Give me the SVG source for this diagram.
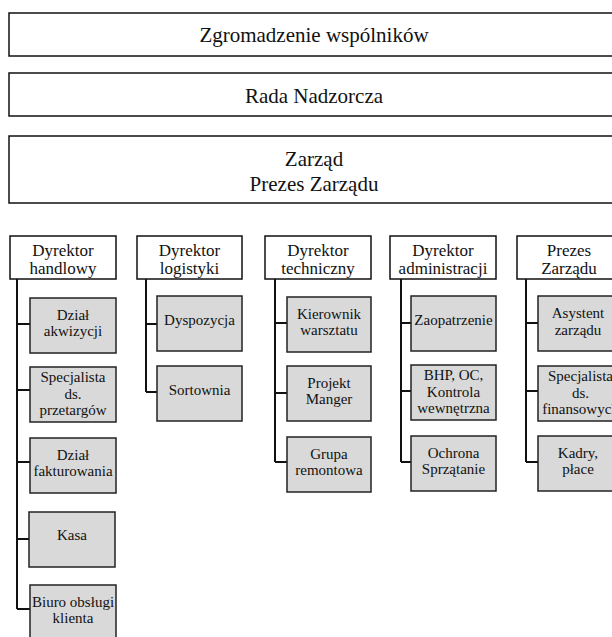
<svg xmlns="http://www.w3.org/2000/svg" width="612" height="637" viewBox="0 0 612 637">
  <style>
    text { font-family: "Liberation Serif", "Times New Roman", serif; fill: #111; text-anchor: middle; }
    .top { font-size: 21px; }
    .dir { font-size: 17px; }
    .sub { font-size: 15px; }
    .wbox { fill: #fff; stroke: #111; stroke-width: 1.5; }
    .gbox { fill: #d9d9d9; stroke: #222; stroke-width: 1.5; }
    .conn { fill: none; stroke: #111; stroke-width: 2; }
  </style>
  <rect width="612" height="637" fill="#fff"/>

  <!-- governing bodies -->
  <g id="zgromadzenie">
    <rect class="wbox" x="9" y="13" width="610" height="43"/>
    <text class="top" x="314" y="42">Zgromadzenie wspólników</text>
  </g>
  <g id="rada">
    <rect class="wbox" x="9" y="73" width="610" height="43"/>
    <text class="top" x="314" y="103">Rada Nadzorcza</text>
  </g>
  <g id="zarzad">
    <rect class="wbox" x="9" y="136" width="610" height="67"/>
    <text class="top" x="314" y="166">Zarząd</text>
    <text class="top" x="314" y="191">Prezes Zarządu</text>
  </g>

  <!-- connectors -->
  <g id="connectors">
    <path class="conn" d="M17 279V609M17 324H30M17 390H30M17 462H30M17 539H30M17 609H30"/>
    <path class="conn" d="M146 279V392M146 324H157M146 392H157"/>
    <path class="conn" d="M275 279V462M275 323H287M275 393H287M275 462H287"/>
    <path class="conn" d="M401 279V462M401 323H411M401 391H411M401 462H411"/>
    <path class="conn" d="M526 279V462M526 323H538M526 391H538M526 462H538"/>
  </g>

  <!-- column 1 -->
  <g id="dyr-handlowy">
    <rect class="wbox" x="10" y="236" width="106" height="43"/>
    <text class="dir" x="63" y="256">Dyrektor</text>
    <text class="dir" x="63" y="274">handlowy</text>
  </g>
  <g id="dzial-akwizycji">
    <rect class="gbox" x="30" y="298" width="86" height="55"/>
    <text class="sub" x="73" y="319.5">Dział</text>
    <text class="sub" x="73" y="336">akwizycji</text>
  </g>
  <g id="specjalista-przetargow">
    <rect class="gbox" x="30" y="367" width="86" height="55"/>
    <text class="sub" x="73" y="382">Specjalista</text>
    <text class="sub" x="73" y="398.5">ds.</text>
    <text class="sub" x="73" y="415">przetargów</text>
  </g>
  <g id="dzial-fakturowania">
    <rect class="gbox" x="30" y="438" width="86" height="55"/>
    <text class="sub" x="73" y="459.5">Dział</text>
    <text class="sub" x="73" y="476">fakturowania</text>
  </g>
  <g id="kasa">
    <rect class="gbox" x="29" y="512" width="86" height="55"/>
    <text class="sub" x="72" y="540">Kasa</text>
  </g>
  <g id="biuro-obslugi">
    <rect class="gbox" x="30" y="585" width="86" height="56"/>
    <text class="sub" x="73" y="606.5">Biuro obsługi</text>
    <text class="sub" x="73" y="623">klienta</text>
  </g>

  <!-- column 2 -->
  <g id="dyr-logistyki">
    <rect class="wbox" x="137" y="236" width="105" height="43"/>
    <text class="dir" x="189.5" y="256">Dyrektor</text>
    <text class="dir" x="189.5" y="274">logistyki</text>
  </g>
  <g id="dyspozycja">
    <rect class="gbox" x="157" y="296" width="85" height="55"/>
    <text class="sub" x="199.5" y="325">Dyspozycja</text>
  </g>
  <g id="sortownia">
    <rect class="gbox" x="157" y="366" width="85" height="55"/>
    <text class="sub" x="199.5" y="395">Sortownia</text>
  </g>

  <!-- column 3 -->
  <g id="dyr-techniczny">
    <rect class="wbox" x="265" y="236" width="106" height="43"/>
    <text class="dir" x="318" y="256">Dyrektor</text>
    <text class="dir" x="318" y="274">techniczny</text>
  </g>
  <g id="kierownik-warsztatu">
    <rect class="gbox" x="287" y="297" width="84" height="55"/>
    <text class="sub" x="329" y="318.5">Kierownik</text>
    <text class="sub" x="329" y="335">warsztatu</text>
  </g>
  <g id="projekt-manger">
    <rect class="gbox" x="287" y="366" width="84" height="55"/>
    <text class="sub" x="329" y="387.5">Projekt</text>
    <text class="sub" x="329" y="404">Manger</text>
  </g>
  <g id="grupa-remontowa">
    <rect class="gbox" x="287" y="437" width="84" height="55"/>
    <text class="sub" x="329" y="458.5">Grupa</text>
    <text class="sub" x="329" y="475">remontowa</text>
  </g>

  <!-- column 4 -->
  <g id="dyr-administracji">
    <rect class="wbox" x="390" y="236" width="106" height="43"/>
    <text class="dir" x="443" y="256">Dyrektor</text>
    <text class="dir" x="443" y="274">administracji</text>
  </g>
  <g id="zaopatrzenie">
    <rect class="gbox" x="411" y="296" width="85" height="55"/>
    <text class="sub" x="453.5" y="325">Zaopatrzenie</text>
  </g>
  <g id="bhp">
    <rect class="gbox" x="411" y="365" width="85" height="55"/>
    <text class="sub" x="453.5" y="380">BHP, OC,</text>
    <text class="sub" x="453.5" y="396.5">Kontrola</text>
    <text class="sub" x="453.5" y="413">wewnętrzna</text>
  </g>
  <g id="ochrona">
    <rect class="gbox" x="411" y="436" width="85" height="55"/>
    <text class="sub" x="453.5" y="457.5">Ochrona</text>
    <text class="sub" x="453.5" y="474">Sprzątanie</text>
  </g>

  <!-- column 5 -->
  <g id="prezes">
    <rect class="wbox" x="517" y="236" width="106" height="43"/>
    <text class="dir" x="569" y="256">Prezes</text>
    <text class="dir" x="569" y="274">Zarządu</text>
  </g>
  <g id="asystent">
    <rect class="gbox" x="538" y="296" width="85" height="55"/>
    <text class="sub" x="578" y="318">Asystent</text>
    <text class="sub" x="578" y="335">zarządu</text>
  </g>
  <g id="specjalista-finansowy">
    <rect class="gbox" x="538" y="366" width="85" height="55"/>
    <text class="sub" x="580.5" y="381">Specjalista</text>
    <text class="sub" x="580.5" y="397.5">ds.</text>
    <text class="sub" x="580.5" y="414">finansowych</text>
  </g>
  <g id="kadry">
    <rect class="gbox" x="538" y="436" width="85" height="55"/>
    <text class="sub" x="578" y="457.5">Kadry,</text>
    <text class="sub" x="578" y="474">płace</text>
  </g>
</svg>
